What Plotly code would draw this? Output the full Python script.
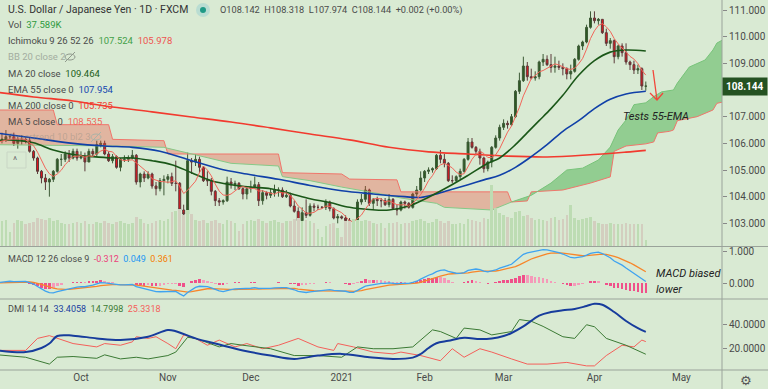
import pandas as pd
import plotly.graph_objects as go

# ---------------- data ----------------
opens = [105.90,105.95,106.15,106.15,106.25,106.25,106.00,106.15,106.15,106.10,105.70,105.45,104.95,104.70,104.55,104.65,104.95,105.40,105.40,105.60,105.45,105.70,
         105.45,105.50,105.30,105.70,105.60,105.95,106.00,105.60,105.35,105.50,105.10,105.40,105.40,105.45,105.55,104.55,104.85,104.70,104.85,104.40,104.30,104.60,
         104.65,104.75,104.50,104.50,103.50,103.35,105.35,105.30,105.40,105.10,104.60,104.60,104.20,103.85,103.80,103.85,104.55,104.45,104.50,104.30,104.10,
         104.30,104.35,104.45,103.85,104.15,104.05,104.15,104.25,104.25,104.00,104.05,103.65,103.45,103.10,103.40,103.30,103.65,103.60,103.60,103.60,103.80,103.55,103.20,
         103.25,103.20,103.10,102.70,103.05,103.80,103.90,104.25,103.75,103.90,103.85,103.85,103.70,103.90,103.55,103.50,103.80,103.75,103.60,104.10,104.25,
         104.70,104.95,105.00,105.05,105.55,105.40,105.25,104.60,104.60,104.75,104.95,105.40,106.05,105.85,105.70,105.45,105.05,105.30,105.85,106.20,
         106.60,106.75,106.70,107.00,107.95,108.35,108.90,108.50,108.45,108.50,109.05,109.15,108.95,108.85,108.90,108.85,108.80,108.60,108.70,109.15,109.65,109.80,110.35,
         110.70,110.60,110.65,110.15,109.75,109.85,109.25,109.65,109.40,109.05,108.95,108.75,108.80,108.142]
highs = [106.05,106.25,106.40,106.50,106.35,106.40,106.25,106.30,106.25,106.20,105.75,105.50,105.00,104.85,104.70,105.00,105.45,105.60,105.70,105.75,105.80,105.80,
         105.70,105.65,105.80,105.80,106.10,106.10,106.10,105.70,105.60,105.55,105.45,105.55,105.55,105.75,105.60,104.90,104.95,104.95,104.90,104.55,104.70,104.80,
         104.85,104.90,105.35,104.55,103.70,105.65,105.45,105.60,105.50,105.15,104.95,104.70,104.25,103.95,103.90,104.75,104.70,104.60,104.55,104.35,104.35,
         104.60,104.75,104.55,104.25,104.20,104.30,104.45,104.35,104.35,104.25,104.15,103.85,103.60,103.60,103.90,103.75,103.75,103.70,103.65,103.90,103.85,103.60,103.35,
         103.30,103.30,103.20,103.10,103.90,104.10,104.40,104.30,103.95,104.00,103.95,103.95,104.10,103.95,103.70,103.85,103.85,103.80,104.15,104.40,104.95,
         105.00,105.10,105.10,105.60,105.75,105.60,105.30,104.80,104.80,105.05,105.45,106.20,106.20,105.90,105.80,105.50,105.35,105.90,106.30,106.70,
         106.90,106.85,107.10,108.00,108.65,109.25,109.05,108.80,108.70,109.10,109.35,109.30,109.35,109.25,109.10,109.00,108.85,108.95,109.20,109.70,109.85,110.45,110.95,
         110.95,110.70,110.65,110.30,109.95,109.90,109.70,109.75,109.75,109.10,109.10,108.95,108.85,108.318]
lows = [105.20,105.75,106.00,106.05,106.15,105.90,105.80,105.95,106.00,105.65,105.35,104.85,104.50,104.25,104.00,104.55,104.90,105.15,105.30,105.30,105.40,105.35,
        105.40,104.95,105.30,105.50,105.50,105.85,105.55,105.30,105.25,105.05,104.95,105.30,105.30,105.40,104.45,104.35,104.55,104.65,104.30,104.05,104.20,104.05,
        104.50,104.40,104.20,103.40,103.20,103.20,104.85,105.15,104.90,104.55,104.40,104.05,103.65,103.65,103.70,103.80,104.30,104.25,104.25,103.90,103.90,
        104.15,104.30,103.65,103.70,103.90,103.95,104.00,104.00,103.95,103.95,103.60,103.40,102.85,103.00,103.20,103.25,103.45,103.50,103.55,103.50,103.45,103.15,103.00,
        103.15,102.70,102.60,102.55,102.95,103.70,103.80,103.65,103.50,103.65,103.60,103.65,103.60,103.55,103.30,103.45,103.55,103.55,103.55,104.00,104.20,
        104.55,104.85,104.90,105.00,105.25,105.10,104.55,104.50,104.55,104.65,104.90,105.35,105.80,105.55,105.20,104.90,104.95,105.10,105.80,106.10,
        106.50,106.55,106.65,106.95,107.85,108.30,108.35,108.40,108.35,108.40,108.90,108.90,108.65,108.65,108.75,108.55,108.40,108.40,108.65,109.10,109.50,109.75,110.30,
        110.50,110.45,110.10,109.65,109.55,109.00,109.15,109.25,108.95,108.75,108.60,108.60,108.00,107.974]
closes = [105.95,106.15,106.15,106.25,106.25,106.00,106.15,106.15,106.10,105.70,105.45,104.95,104.70,104.55,104.65,104.95,105.40,105.40,105.60,105.45,105.70,105.45,
          105.50,105.30,105.70,105.60,105.95,106.00,105.60,105.35,105.50,105.10,105.40,105.40,105.45,105.55,104.55,104.85,104.70,104.85,104.40,104.30,104.60,104.65,
          104.75,104.50,104.50,103.50,103.35,105.35,105.30,105.40,105.10,104.60,104.60,104.20,103.85,103.80,103.85,104.55,104.45,104.50,104.30,104.10,104.30,
          104.35,104.45,103.85,104.15,104.05,104.15,104.25,104.25,104.00,104.05,103.65,103.45,103.10,103.40,103.30,103.65,103.60,103.60,103.60,103.80,103.55,103.20,103.25,
          103.20,103.10,102.70,103.05,103.80,103.90,104.25,103.75,103.90,103.85,103.85,103.70,103.90,103.55,103.50,103.80,103.75,103.60,104.10,104.25,104.70,
          104.95,105.00,105.05,105.55,105.40,105.25,104.60,104.60,104.75,104.95,105.40,106.05,105.85,105.70,105.45,105.05,105.30,105.85,106.20,106.60,
          106.75,106.70,107.00,107.95,108.35,108.90,108.50,108.45,108.50,109.05,109.15,108.95,108.85,108.90,108.85,108.80,108.60,108.70,109.15,109.65,109.80,110.35,110.70,
          110.60,110.65,110.15,109.75,109.85,109.25,109.65,109.40,109.05,108.95,108.75,108.80,108.15,108.144]
volume_k = [160,150,165,170,90,150,170,165,140,150,155,180,175,170,185,165,170,150,145,140,150,155,
            150,165,140,140,155,150,160,150,145,155,160,150,145,150,190,175,150,145,150,165,170,165,
            175,220,230,240,200,235,210,170,165,170,150,160,170,150,145,170,160,150,100,140,165,
            170,165,175,160,150,160,170,155,150,160,165,175,185,165,170,160,150,110,60,130,140,150,120,
            60,160,165,175,170,160,170,165,150,145,150,120,150,150,155,140,150,150,165,170,175,
            160,150,155,175,165,150,160,145,140,150,140,175,170,165,155,180,175,400,245,215,
            200,190,185,220,230,195,200,180,170,175,170,165,185,190,170,175,200,265,180,170,175,185,190,
            160,150,140,145,150,140,140,145,150,140,145,140,145,37.589]

# smooth indicator lines, sampled at bar indices
ma20_idx = [0,5,10,15,20,25,30,35,40,45,50,55,60,65,70,75,80,85,90,95,100,105,110,115,120,125,128,132,135,138,141,144,148,152,156,160,165]
ma20_val = [106.10,106.12,106.02,105.75,105.58,105.50,105.45,105.45,105.35,105.20,104.90,104.60,104.45,104.36,104.30,104.12,103.92,103.78,103.60,103.52,103.50,
            103.65,103.98,104.37,104.80,105.25,105.45,105.95,106.40,106.85,107.30,107.80,108.55,109.10,109.42,109.50,109.464]
ema55_idx = [0,10,20,28,35,42,50,57,64,72,80,88,96,104,108,112,116,120,124,128,132,136,140,144,148,152,156,160,165]
ema55_val = [106.40,106.20,106.00,105.90,105.85,105.70,105.35,105.05,104.85,104.65,104.42,104.22,104.10,104.00,103.97,104.10,104.28,104.45,104.63,104.80,
             105.10,105.50,105.95,106.45,106.85,107.30,107.65,107.85,107.954]
ma200_idx = [0,10,20,30,40,50,60,70,80,90,100,110,120,130,140,150,160,165]
ma200_val = [107.93,107.74,107.59,107.36,107.18,106.99,106.80,106.58,106.35,106.13,105.85,105.68,105.60,105.52,105.49,105.56,105.67,105.735]

# Ichimoku leading spans (already displaced 26 bars)
spanb_red_idx = [0,15,16,29,30,43,44,72,73,88,90,102,103,130,131]
spanb_red_val = [107.25,107.25,106.70,106.70,106.15,106.10,105.60,105.60,104.90,104.85,104.66,104.63,104.18,104.18,103.80]
spana_red_idx = [0,30,43,50,60,72,73,80,88,98,103,112,114,126,131]
spana_red_val = [105.95,105.90,105.85,105.60,105.25,105.15,104.75,104.60,104.36,104.10,103.95,103.75,103.60,103.50,103.80]
spanb_grn_idx = [131,135,136,144,151,156,157,160,165,167,168,171,172,173,178,179,181,182,183,186]
spanb_grn_val = [103.80,103.84,104.18,104.25,104.51,104.74,105.70,105.90,105.98,106.05,106.39,106.45,106.50,106.85,107.00,107.06,107.20,107.25,107.50,107.60]
spana_grn_idx = [131,136,141,145,149,153,156,158,160,162,165,167,169,172,173,176,180,182,183,186]
spana_grn_val = [103.80,104.05,104.51,105.00,105.07,105.375,105.86,106.50,106.875,107.45,107.52,107.75,107.93,108.00,108.26,108.86,109.125,109.50,109.76,110.00]

# DMI (ADX, +DI, -DI)
adx_idx = [1,8,12,14,16,20,26,32,39,44,46,51,57,63,70,76,82,88,95,101,106,108,110,112,115,119,123,126,129,131,134,138,141,144,147,150,152,154,157,160,163,165]
adx_val = [18,16.6,20,23.7,30,30.3,28,26.6,29.4,35,34,28,22.9,18,13.7,10.9,13.7,15.1,12.3,10.9,12,15,20,24,26,28.5,27.5,28,30,32.5,38,47,50,51.4,52.5,55,56.8,56,50,42.5,36.5,33.4058]
pdi_idx = [1,8,14,16,20,26,28,32,36,39,44,46,49,51,57,60,63,70,76,82,88,92,96,101,106,111,113,117,119,123,126,131,133,136,139,144,147,150,152,155,160,165]
pdi_val = [14.3,12.3,6.6,12.3,12.9,11.4,14.3,10.9,12.3,10.9,13.7,16.6,28.9,28,20.9,23.7,22.3,19.4,13.7,13.7,12.3,20.9,19.4,19.4,20.9,35.1,33.7,28,36.6,35.1,30.9,33.7,43.7,42.3,38,29.4,28,39.4,37.7,28,22.3,14.7998]
mdi_idx = [1,8,11,14,20,26,28,32,35,36,39,41,44,46,48,51,54,57,61,64,68,72,77,82,86,87,91,96,101,103,108,111,113,116,119,123,126,131,135,140,145,150,152,155,159,162,164,165]
mdi_val = [18,18,28,30.3,23.7,20.9,23.7,22.3,25.1,29.4,28,29.4,23.7,19.4,30.9,28,22.3,26.6,20.9,23.7,19.4,22.3,28,20.9,18,23.7,20.9,16.6,15.1,16.6,13.7,10.9,9.4,19.4,12.3,19.4,16.6,10.9,6.6,6.6,8,5.1,5.1,13.7,22.3,20.9,26.6,25.3318]

price_ticks = [103, 104, 105, 106, 107, 109, 110, 111]
month_ticks = ["2020-10-01","2020-11-02","2020-12-01","2021-01-01","2021-02-01","2021-03-01","2021-04-01","2021-05-03"]
month_labels = ["Oct","Nov","Dec","2021","Feb","Mar","Apr","May"]

# ---------------- derived ----------------
dates = pd.bdate_range("2020-09-01", periods=190)
n = len(closes)
d = dates[:n]
cl = pd.Series(closes)
ma5 = cl.rolling(5, min_periods=1).mean()
ema12 = cl.ewm(span=12, adjust=False).mean()
ema26 = cl.ewm(span=26, adjust=False).mean()
macd = ema12 - ema26
signal = macd.ewm(span=9, adjust=False).mean()
hist = macd - signal

BG = "#d9ead3"
W, H = 768, 389
PW, PH = 722, 370  # plot area in px


def px(x):
    return x / PW


def py(y):
    return 1 - y / PH


fig = go.Figure()

# volume
vcol = ["#bddcb3" if c >= o else "#d3cebf" for o, c in zip(opens, closes)]
fig.add_trace(go.Bar(x=d, y=volume_k, marker=dict(color=vcol, line=dict(width=0)), yaxis="y2",
                     width=0.65 * 86400000, hoverinfo="skip"))


def X(idx):
    return [dates[i] for i in idx]


# ichimoku cloud
fig.add_trace(go.Scatter(x=X(spanb_red_idx), y=spanb_red_val, mode="lines", line=dict(color="#f0766b", width=1), yaxis="y"))
fig.add_trace(go.Scatter(x=X(spana_red_idx), y=spana_red_val, mode="lines", line=dict(color="#86c987", width=1), yaxis="y",
                         fill="tonexty", fillcolor="rgba(244,67,54,0.32)"))
fig.add_trace(go.Scatter(x=X(spanb_grn_idx), y=spanb_grn_val, mode="lines", line=dict(color="#f0766b", width=1), yaxis="y"))
fig.add_trace(go.Scatter(x=X(spana_grn_idx), y=spana_grn_val, mode="lines", line=dict(color="#78c47a", width=1), yaxis="y",
                         fill="tonexty", fillcolor="rgba(76,175,80,0.5)"))

# candles
fig.add_trace(go.Candlestick(x=d, open=opens, high=highs, low=lows, close=closes, yaxis="y",
                             increasing=dict(fillcolor="#2b5a22", line=dict(color="#3d5a36", width=1)),
                             decreasing=dict(fillcolor="#e8141c", line=dict(color="#5c3a3a", width=1)),
                             whiskerwidth=0, hoverinfo="skip"))

# moving averages
fig.add_trace(go.Scatter(x=X(ma200_idx), y=ma200_val, mode="lines", line=dict(color="#f23a2e", width=1.6, shape="spline"), yaxis="y"))
fig.add_trace(go.Scatter(x=X(ema55_idx), y=ema55_val, mode="lines", line=dict(color="#1040a8", width=1.6, shape="spline"), yaxis="y"))
fig.add_trace(go.Scatter(x=X(ma20_idx), y=ma20_val, mode="lines", line=dict(color="#1a5718", width=1.6, shape="spline"), yaxis="y"))
fig.add_trace(go.Scatter(x=d, y=ma5, mode="lines", line=dict(color="#f2665a", width=1), yaxis="y"))

# MACD
hcol = []
for i, h in enumerate(hist):
    prev = hist.iloc[i - 1] if i > 0 else h
    hcol.append("#f0508a" if abs(h) >= abs(prev) else "#f59ab9")
fig.add_trace(go.Bar(x=d, y=hist, marker=dict(color=hcol, line=dict(width=0)), yaxis="y3", width=0.65 * 86400000))
fig.add_trace(go.Scatter(x=d, y=signal, mode="lines", line=dict(color="#f7862a", width=1.3), yaxis="y3"))
fig.add_trace(go.Scatter(x=d, y=macd, mode="lines", line=dict(color="#3fa3f0", width=1.3), yaxis="y3"))

# DMI
fig.add_trace(go.Scatter(x=X(mdi_idx), y=mdi_val, mode="lines", line=dict(color="#f4605a", width=1), yaxis="y4"))
fig.add_trace(go.Scatter(x=X(pdi_idx), y=pdi_val, mode="lines", line=dict(color="#3b7a34", width=1), yaxis="y4"))
fig.add_trace(go.Scatter(x=X(adx_idx), y=adx_val, mode="lines", line=dict(color="#173c9c", width=2, shape="spline"), yaxis="y4"))

FONT = "Roboto"
TXT = "#4a4a4a"
AX = dict(size=10, color=TXT, family=FONT)
xr_end = dates[184] + pd.Timedelta(hours=7)
fig.update_layout(
    width=W, height=H, margin=dict(l=0, r=W - PW, t=0, b=H - PH, autoexpand=False),
    paper_bgcolor=BG, plot_bgcolor=BG, showlegend=False, hovermode=False,
    font=dict(family=FONT, size=10, color=TXT),
    bargap=0,
    xaxis=dict(type="date", rangebreaks=[dict(bounds=["sat", "mon"])],
               range=[pd.Timestamp("2020-09-02 12:00"), xr_end], anchor="y4",
               tickvals=month_ticks, ticktext=month_labels, showgrid=False, zeroline=False,
               showline=False, ticks="", tickfont=AX, rangeslider=dict(visible=False)),
    yaxis=dict(domain=[1 - 246 / PH, 1], range=[102.15, 111.375], side="right", tickvals=price_ticks,
               tickformat=".3f", showgrid=False, zeroline=False, ticks="outside", ticklen=4, tickcolor="#888",
               tickfont=AX, anchor="x"),
    yaxis2=dict(overlaying="y", range=[0, 1600], visible=False),
    yaxis3=dict(domain=[1 - 298 / PH, 1 - 247 / PH], range=[-0.48, 1.16], side="right", tickvals=[0, 1],
                tickformat=".3f", showgrid=False, zeroline=False, ticks="outside", ticklen=4, tickcolor="#888",
                tickfont=AX, anchor="x"),
    yaxis4=dict(domain=[0, 1 - 300 / PH], range=[1.67, 60], side="right", tickvals=[20, 40],
                tickformat=".4f", showgrid=False, zeroline=False, ticks="outside", ticklen=4, tickcolor="#888",
                tickfont=AX, anchor="x"),
)

shapes = []
LINE = "#9aa39a"
shapes.append(dict(type="line", xref="paper", yref="paper", x0=1, x1=1, y0=py(389), y1=1, line=dict(color=LINE, width=1)))
for yy in (246.5, 299, 370):
    shapes.append(dict(type="line", xref="paper", yref="paper", x0=0, x1=W / PW, y0=py(yy), y1=py(yy), line=dict(color=LINE, width=1)))
# status dot in header
shapes.append(dict(type="circle", xref="paper", yref="paper", x0=px(196), x1=px(210), y0=py(17), y1=py(3),
                   fillcolor="#b9ddd2", line=dict(width=0)))
shapes.append(dict(type="circle", xref="paper", yref="paper", x0=px(200), x1=px(206), y0=py(13), y1=py(7),
                   fillcolor="#1f9a86", line=dict(width=0)))
# hidden-indicator eye icons
for ex, ey, col in ((70, 57, "#8f998c"), (96, 137, "#aab3a7")):
    shapes.append(dict(type="circle", xref="paper", yref="paper", x0=px(ex - 5), x1=px(ex + 5), y0=py(ey + 3), y1=py(ey - 3),
                       line=dict(color=col, width=1)))
    shapes.append(dict(type="line", xref="paper", yref="paper", x0=px(ex - 5), x1=px(ex + 5), y0=py(ey + 5), y1=py(ey - 5),
                       line=dict(color=col, width=1)))
# collapse button
shapes.append(dict(type="rect", xref="paper", yref="paper", x0=px(7), x1=px(26), y0=py(168), y1=py(152),
                   line=dict(color="#c9d6c5", width=1), fillcolor="rgba(0,0,0,0)"))
# red arrow
shapes.append(dict(type="path", xref="paper", yref="paper",
                   path=f"M {px(653)} {py(70)} L {px(657)} {py(100)} M {px(650)} {py(93)} L {px(657)} {py(100)} L {px(663)} {py(93)}",
                   line=dict(color="#f2463a", width=1.3)))
fig.update_layout(shapes=shapes)

ann = []


def label(x, y, text, size=9.5, color=TXT, family=FONT):
    ann.append(dict(xref="paper", yref="paper", x=px(x), y=py(y), text=text, showarrow=False, xanchor="left",
                    yanchor="middle", font=dict(size=size, color=color, family=family), align="left", borderpad=0))


def sp(c, t):
    return f"<span style='color:{c}'>{t}</span>"


label(7, 10, "U.S. Dollar / Japanese Yen · 1D · FXCM", size=10.5, color="#333")
label(219, 10, "O108.142  H108.318  L107.974  C108.144  +0.002 (+0.00%)", size=9.2, color="#4a4a4a")
label(7, 25, "Vol  " + sp("#2e9a3e", "37.589K"))
label(7, 41, "Ichimoku 9 26 52 26  " + sp("#43a047", "107.524") + "  " + sp("#ef5350", "105.978"))
label(7, 57, "BB 20 close 2", color="#a3ad9f")
label(7, 73, "MA 20 close  " + sp("#1b5e20", "109.464"))
label(7, 89, "EMA 55 close 0  " + sp("#1546b0", "107.954"))
label(7, 105, "MA 200 close 0  " + sp("#f23a2e", "105.735"))
label(7, 121, "MA 5 close 0  " + sp("#f2665a", "108.535"))
label(7, 136, "Supertrend 10 bl2 3", color="rgba(120,130,120,0.35)")
label(12, 160, "^", size=10, color="#777")
label(7, 259, "MACD 12 26 close 9  " + sp("#ec407a", "-0.312") + "  " + sp("#2196f3", "0.049") + "  " + sp("#f57c00", "0.361"), size=9)
label(7, 309, "DMI 14 14  " + sp("#1a3fa0", "33.4058") + "  " + sp("#3b7a34", "14.7998") + "  " + sp("#f4605a", "25.3318"), size=9)
label(622, 116, "<i>Tests 55-EMA</i>", size=11, color="#222")
label(655, 273, "<i>MACD biased</i>", size=11, color="#222")
label(655, 289, "<i>lower</i>", size=11, color="#222")
label(739, 380, "⚙", size=13, color="#555", family="DejaVu Sans")
# last price tag
ann.append(dict(xref="paper", yref="y", x=1, y=108.144, text="<b>108.144</b>", showarrow=False, xanchor="left",
                yanchor="middle", bgcolor="#255222", font=dict(size=10, color="white", family=FONT), borderpad=3))
fig.update_layout(annotations=ann)

fig.write_html("out.html", config={"displayModeBar": False, "staticPlot": True},
               post_script="document.body.style.margin='0';document.body.style.overflow='hidden';")
